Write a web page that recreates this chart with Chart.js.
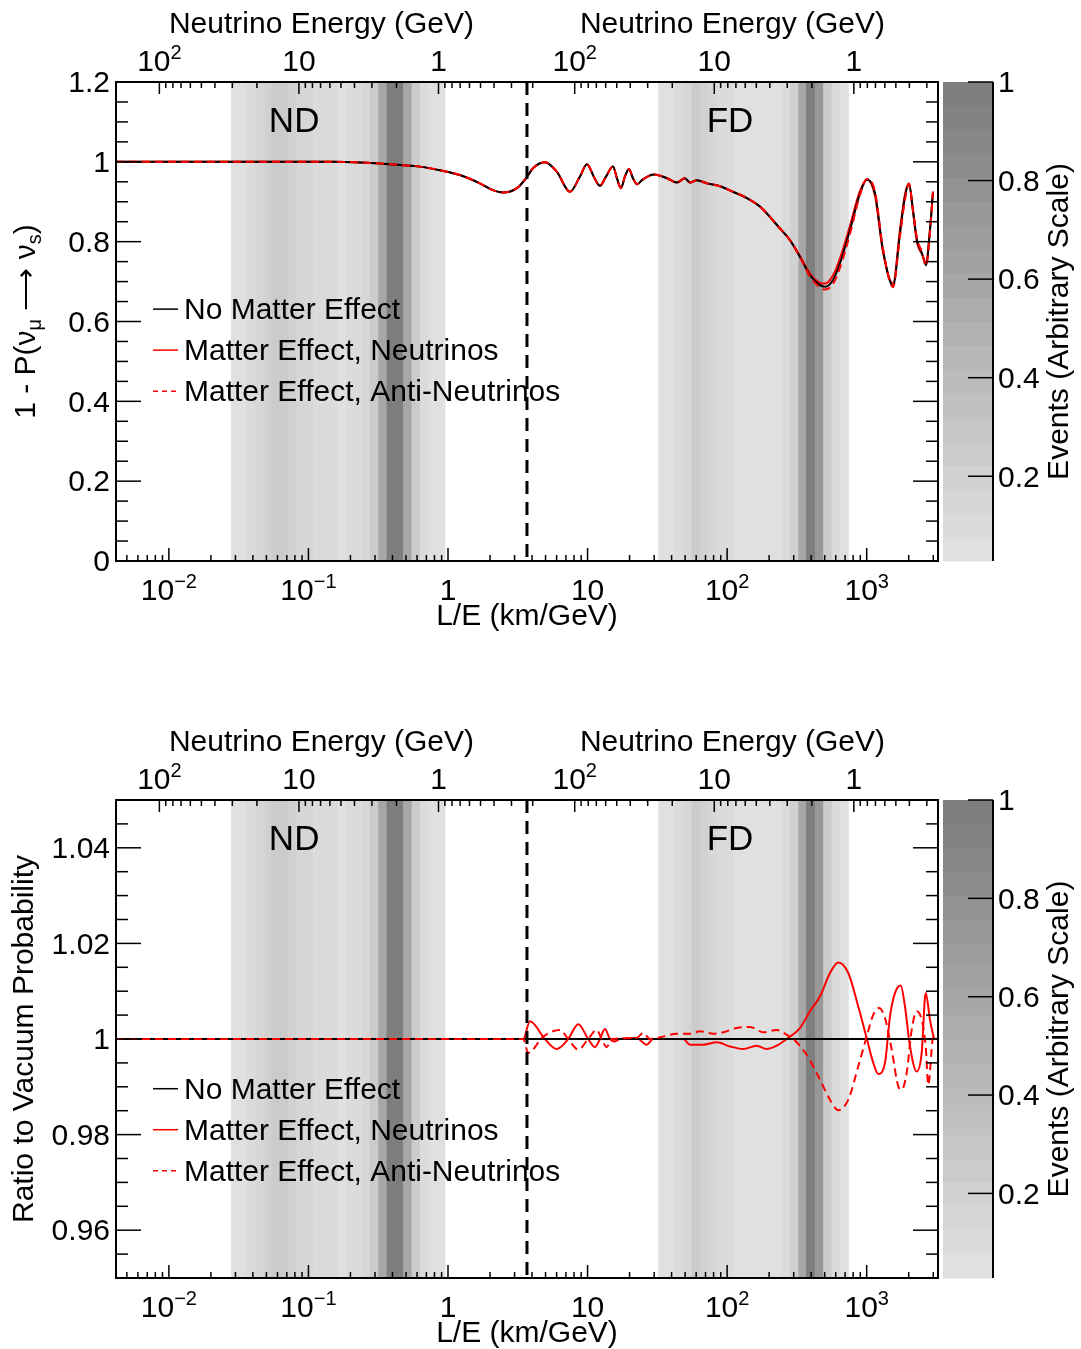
<!DOCTYPE html>
<html>
<head>
<meta charset="utf-8">
<script src="https://cdn.jsdelivr.net/npm/chart.js@4.4.1/dist/chart.umd.min.js"></script>
<style>
  html, body { margin: 0; padding: 0; background: #fff; overflow: hidden; }
  canvas { position: absolute; left: 0; }
  #survival { top: 0; }
  #ratio { top: 718px; }
</style>
</head>
<body>
<canvas id="survival" width="1081" height="674"></canvas>
<canvas id="ratio" width="1081" height="631"></canvas>
<script>
const FONT = '"Liberation Sans", Arial, Helvetica, sans-serif';
const TEXT = 30;

// L/E axis range (km/GeV)
const leMin = 0.00418;
const leMax = 3243;
// ND / FD split and baselines (km) used for the energy axes
const boundaryLE = 3.68;
const baselineND = 0.855;
const baselineFD = 809;
const energyLabelValues = [100, 10, 1];

// Event histograms: bin edges in L/E and normalised contents
const ndEdges = [0.0279, 0.0360, 0.0418, 0.0482, 0.0544, 0.0716, 0.0822, 0.1081, 0.1633, 0.1876, 0.2443, 0.2756, 0.3161, 0.3631, 0.4163, 0.4775, 0.5483, 0.6287, 0.7212, 0.9502];
const ndEvents = [0.06, 0.11, 0.15, 0.20, 0.25, 0.20, 0.15, 0.11, 0.06, 0.11, 0.15, 0.25, 0.61, 0.99, 0.97, 0.61, 0.25, 0.11, 0.06];
const fdEdges = [32.09, 42.27, 48.48, 55.69, 63.86, 73.21, 84.12, 110.6, 245.9, 281.9, 323.4, 367.2, 426.0, 488.6, 561.3, 643.6, 738.0];
const fdEvents = [0.06, 0.11, 0.15, 0.25, 0.20, 0.15, 0.11, 0.06, 0.11, 0.20, 0.61, 0.99, 0.73, 0.25, 0.11, 0.06];

// Survival probability 1 - P(numu -> nus)
const leSurvival = [0.00418, 0.15, 0.325, 0.452, 0.629, 0.875, 1.217, 1.693, 2.098, 2.475, 3.118, 3.677, 4.059, 4.947, 6.031, 7.476, 8.815, 9.895, 11.11, 12.27, 13.54, 15.20, 16.23, 17.34, 18.52, 19.79, 21.14, 22.58, 24.93, 29.90, 37.05, 43.70, 49.86, 54.15, 60.77, 71.69, 88.83, 110.1, 138.8, 171.9, 239.1, 281.9, 332.5, 392.3, 462.7, 502.4, 573.3, 643.6, 759.0, 895.3, 1004.7, 1146.6, 1308.6, 1543.1, 1731.9, 1880.8, 2009.1, 2146.1, 2293.3, 2490.2, 2660.1, 2841.6, 2985.4];
const survVacuum = [1.0, 1.0, 0.996, 0.992, 0.988, 0.979, 0.967, 0.946, 0.929, 0.923, 0.934, 0.962, 0.984, 0.999, 0.975, 0.925, 0.963, 0.994, 0.962, 0.940, 0.963, 0.988, 0.959, 0.934, 0.963, 0.982, 0.959, 0.944, 0.956, 0.968, 0.959, 0.948, 0.959, 0.948, 0.954, 0.946, 0.939, 0.925, 0.909, 0.888, 0.833, 0.804, 0.762, 0.716, 0.691, 0.687, 0.704, 0.746, 0.829, 0.921, 0.956, 0.921, 0.779, 0.689, 0.821, 0.913, 0.946, 0.879, 0.804, 0.771, 0.741, 0.829, 0.925];
const survNu = [1.0, 1.0, 0.996, 0.992, 0.988, 0.979, 0.967, 0.946, 0.929, 0.923, 0.934, 0.962, 0.984, 0.999, 0.975, 0.925, 0.963, 0.994, 0.962, 0.940, 0.963, 0.988, 0.959, 0.934, 0.963, 0.982, 0.959, 0.944, 0.956, 0.968, 0.959, 0.948, 0.959, 0.948, 0.954, 0.946, 0.939, 0.925, 0.909, 0.888, 0.833, 0.804, 0.764, 0.720, 0.697, 0.695, 0.715, 0.758, 0.840, 0.927, 0.956, 0.915, 0.774, 0.695, 0.830, 0.919, 0.945, 0.875, 0.798, 0.769, 0.748, 0.832, 0.925];
const survAnti = [1.0, 1.0, 0.996, 0.992, 0.988, 0.979, 0.967, 0.946, 0.929, 0.923, 0.934, 0.962, 0.984, 0.999, 0.975, 0.925, 0.963, 0.994, 0.962, 0.940, 0.963, 0.988, 0.959, 0.934, 0.963, 0.982, 0.959, 0.944, 0.956, 0.968, 0.959, 0.948, 0.959, 0.948, 0.954, 0.946, 0.939, 0.925, 0.909, 0.888, 0.833, 0.804, 0.761, 0.713, 0.685, 0.680, 0.694, 0.735, 0.819, 0.917, 0.957, 0.926, 0.783, 0.686, 0.813, 0.905, 0.945, 0.881, 0.809, 0.774, 0.740, 0.823, 0.925];

// Ratio to vacuum probability
const leVacuumRatio = [0.00418, 3243];
const vacuumRatio = [1, 1];
const leNuRatio = [0.00418, 3.459, 3.863, 4.947, 6.002, 7.267, 8.574, 10.11, 11.29, 12.27, 13.32, 14.46, 15.71, 17.06, 22.47, 26.51, 29.55, 48.48, 54.15, 67.44, 84.12, 104.8, 130.5, 162.7, 191.9, 226.4, 267.1, 332.5, 392.3, 462.7, 545.7, 625.9, 738.0, 870.5, 999.8, 1115, 1211, 1352, 1468, 1594, 1752, 1881, 2043, 2281, 2478, 2647, 2842, 3035];
const nuRatio = [1, 1, 1.0037, 1.0, 0.9979, 1.0, 1.0031, 1.0, 0.9983, 1.0, 1.0021, 1.0, 0.9995, 1.0, 1.0002, 0.9988, 1.0, 1.0, 0.9988, 0.9988, 0.9993, 0.99845, 0.9979, 0.9986, 0.9979, 0.9986, 1.0, 1.0023, 1.0058, 1.0089, 1.0138, 1.0160, 1.0138, 1.0068, 1.0002, 0.9950, 0.9927, 0.9950, 1.0047, 1.0096, 1.0112, 1.0068, 0.99845, 0.9932, 0.9971, 1.0096, 1.0040, 1.0];
const leAntiRatio = [0.00418, 3.459, 3.756, 4.811, 6.338, 7.267, 8.574, 10.11, 11.61, 12.61, 13.70, 14.87, 22.47, 25.06, 27.99, 34.85, 43.47, 54.15, 63.89, 79.55, 93.80, 117.0, 145.7, 181.5, 226.4, 267.1, 297.8, 371.5, 462.7, 545.7, 625.9, 738.0, 870.5, 999.8, 1115, 1225, 1352, 1510, 1684, 1781, 1934, 2101, 2281, 2478, 2647, 2763, 2971, 3035];
const antiRatio = [1, 1, 0.9971, 1.0005, 1.0019, 1.0, 0.9978, 1.0, 1.0019, 1.0, 0.9983, 1.0, 1.0002, 1.0013, 1.0, 1.0005, 1.0011, 1.0011, 1.0016, 1.0011, 1.0014, 1.0023, 1.0025, 1.0014, 1.0019, 1.0009, 1.0, 0.9967, 0.9915, 0.9873, 0.9851, 0.9873, 0.9943, 1.0005, 1.0051, 1.0065, 1.0044, 0.9978, 0.9901, 0.9894, 0.9929, 1.0019, 1.0058, 1.0040, 0.99845, 0.9904, 1.0, 1.0005];

// Grey palette of the event colour scale
const zMin = 0.028;
const zMax = 1;
const nLevels = 20;
const zLabels = [0.2, 0.4, 0.6, 0.8, 1];
function grayFor(v) {
  let k = Math.floor((v - zMin) / (zMax - zMin) * nLevels);
  k = Math.max(0, Math.min(nLevels - 1, k));
  const g = Math.round(224 - k * (224 - 126) / (nLevels - 1));
  return `rgb(${g},${g},${g})`;
}

function points(xs, ys) {
  return xs.map((x, i) => ({ x: x, y: ys[i] }));
}

function logTicks(lo, hi) {
  const t = [];
  for (let n = -3; n <= 3; n++) {
    for (let m = 1; m <= 9; m++) {
      const v = m * Math.pow(10, n);
      if (v >= lo && v <= hi) t.push({ value: v });
    }
  }
  return t;
}

function isDecade(v) {
  const l = Math.log10(v);
  return Math.abs(l - Math.round(l)) < 1e-9;
}

function isMultiple(v, step) {
  return Math.abs(v / step - Math.round(v / step)) < 1e-6;
}

// "10^n" label split into base and raised exponent
function powerParts(v) {
  const n = Math.round(Math.log10(v));
  if (n === 0) return [['1', TEXT, 0]];
  if (n === 1) return [['10', TEXT, 0]];
  return [['10', TEXT, 0], [String(n).replace('-', '\u2212'), 20, -10]];
}

// draws a row of text pieces (text, size, dy) centred on cx
function drawRich(ctx, parts, cx, cy) {
  let w = 0;
  const widths = parts.map(p => {
    ctx.font = `${p[1]}px ${FONT}`;
    const pw = ctx.measureText(p[0]).width;
    w += pw;
    return pw;
  });
  let xx = cx - w / 2;
  ctx.textAlign = 'left';
  ctx.textBaseline = 'middle';
  parts.forEach((p, i) => {
    ctx.font = `${p[1]}px ${FONT}`;
    ctx.fillText(p[0], xx, cy + p[2]);
    xx += widths[i];
  });
}

function seg(ctx, x0, y0, x1, y1) {
  ctx.beginPath();
  ctx.moveTo(x0, y0);
  ctx.lineTo(x1, y1);
  ctx.stroke();
}

const rootFrame = {
  id: 'rootFrame',
  beforeDatasetsDraw(chart) {
    const { ctx, chartArea: a, scales: { x } } = chart;
    ctx.save();
    [[ndEdges, ndEvents], [fdEdges, fdEvents]].forEach(([edges, vals]) => {
      vals.forEach((v, i) => {
        const x0 = x.getPixelForValue(edges[i]);
        const x1 = x.getPixelForValue(edges[i + 1]);
        ctx.fillStyle = grayFor(v);
        ctx.fillRect(x0, a.top, x1 - x0 + 0.5, a.bottom - a.top);
      });
    });
    ctx.restore();
  },
  afterDraw(chart, args, opts) {
    const { ctx, chartArea: a, scales: { x, y, z } } = chart;
    ctx.save();
    ctx.strokeStyle = '#000';
    ctx.fillStyle = '#000';

    // ND | FD boundary
    const xb = x.getPixelForValue(boundaryLE);
    ctx.lineWidth = 3;
    ctx.setLineDash([13, 8]);
    seg(ctx, xb, a.top, xb, a.bottom);
    ctx.setLineDash([]);

    // L/E ticks and labels
    ctx.lineWidth = 1.5;
    x.ticks.forEach(t => {
      const px = x.getPixelForValue(t.value);
      if (px < a.left + 1 || px > a.right - 1) return;
      const dec = isDecade(t.value);
      seg(ctx, px, a.bottom, px, a.bottom - (dec ? 13 : 6));
      if (dec) drawRich(ctx, powerParts(t.value), px, a.bottom + 31);
    });
    ctx.font = `${TEXT}px ${FONT}`;
    ctx.textAlign = 'center';
    ctx.textBaseline = 'middle';
    ctx.fillText('L/E (km/GeV)', (a.left + a.right) / 2, a.bottom + 56);

    // energy axes along the top, one per detector
    [[baselineND, a.left, xb], [baselineFD, xb, a.right]].forEach(([L, lo, hi]) => {
      for (let n = -1; n <= 3; n++) {
        for (let m = 1; m <= 9; m++) {
          const px = x.getPixelForValue(L / (m * Math.pow(10, n)));
          if (px <= lo + 2 || px >= hi - 2) continue;
          seg(ctx, px, a.top, px, a.top + (m === 1 ? 12 : 6));
        }
      }
      energyLabelValues.forEach(e => {
        drawRich(ctx, powerParts(e), x.getPixelForValue(L / e), a.top - 19);
      });
      ctx.font = `${TEXT}px ${FONT}`;
      ctx.textAlign = 'center';
      ctx.fillText('Neutrino Energy (GeV)', (lo + hi) / 2, a.top - 57);
    });

    // y ticks on both sides
    y.ticks.forEach(t => {
      const py = y.getPixelForValue(t.value);
      const len = t.label !== '' ? 25 : 12;
      seg(ctx, a.left, py, a.left + len, py);
      seg(ctx, a.right, py, a.right - len, py);
    });

    // frame
    ctx.lineWidth = 2;
    ctx.strokeRect(a.left, a.top, a.right - a.left, a.bottom - a.top);

    // detector labels
    ctx.font = `35px ${FONT}`;
    ctx.textAlign = 'center';
    ctx.textBaseline = 'middle';
    ctx.fillText('ND', x.getPixelForValue(0.079), a.top + 40);
    ctx.fillText('FD', x.getPixelForValue(104.8), a.top + 40);

    // legend
    const ly = y.getPixelForValue(opts.legendY);
    chart.data.datasets.forEach((ds, i) => {
      const py = ly + i * 41;
      ctx.strokeStyle = ds.borderColor;
      ctx.lineWidth = 1.5;
      ctx.setLineDash(ds.borderDash ? [5, 4] : []);
      seg(ctx, a.left + 37, py, a.left + 62, py);
      ctx.setLineDash([]);
      ctx.fillStyle = '#000';
      ctx.font = `${TEXT}px ${FONT}`;
      ctx.textAlign = 'left';
      ctx.fillText(ds.label, a.left + 68, py + 2);
    });

    // y title
    ctx.save();
    ctx.translate(opts.titleX, (a.top + a.bottom) / 2);
    ctx.rotate(-Math.PI / 2);
    drawRich(ctx, opts.yTitle, 0, 0);
    ctx.restore();

    // colour scale
    const cx0 = a.right + 5;
    const cx1 = a.right + 55;
    for (let k = 0; k < nLevels; k++) {
      const v0 = zMin + k * (zMax - zMin) / nLevels;
      const v1 = zMin + (k + 1) * (zMax - zMin) / nLevels;
      const y0 = z.getPixelForValue(v1);
      const y1 = z.getPixelForValue(v0);
      ctx.fillStyle = grayFor((v0 + v1) / 2);
      ctx.fillRect(cx0, y0, cx1 - cx0, y1 - y0 + 0.5);
    }
    ctx.strokeStyle = '#000';
    ctx.fillStyle = '#000';
    ctx.lineWidth = 2;
    seg(ctx, cx1, a.top, cx1, a.bottom);
    ctx.lineWidth = 1.5;
    ctx.font = `${TEXT}px ${FONT}`;
    ctx.textAlign = 'left';
    ctx.textBaseline = 'middle';
    z.ticks.forEach(t => {
      const py = z.getPixelForValue(t.value);
      seg(ctx, cx1, py, cx1 - 25, py);
      ctx.fillText(String(parseFloat(t.value.toFixed(1))), cx1 + 5, py + 2);
    });
    ctx.save();
    ctx.translate(1060, (a.top + a.bottom) / 2);
    ctx.rotate(-Math.PI / 2);
    drawRich(ctx, [['Events (Arbitrary Scale)', TEXT, 0]], 0, 0);
    ctx.restore();

    ctx.restore();
  }
};

function makeDatasets(vac, nu, anti) {
  return [
    { label: 'No Matter Effect', data: vac, borderColor: '#000000', order: 1 },
    { label: 'Matter Effect, Neutrinos', data: nu, borderColor: '#ff0000', order: 2 },
    { label: 'Matter Effect, Anti-Neutrinos', data: anti, borderColor: '#ff0000', borderDash: [8, 5], order: 0 }
  ];
}

function makeChart(id, cfg) {
  const canvas = document.getElementById(id);
  const H = canvas.height;
  const steps = Math.round((cfg.yMax - cfg.yMin) / cfg.yMinor);
  return new Chart(canvas, {
    type: 'line',
    data: { datasets: cfg.datasets },
    plugins: [rootFrame],
    options: {
      responsive: false,
      animation: false,
      devicePixelRatio: 1,
      layout: { padding: { top: 82, left: 0, right: 0, bottom: 0 } },
      elements: {
        point: { radius: 0 },
        line: { borderWidth: 2, cubicInterpolationMode: 'monotone' }
      },
      plugins: {
        legend: { display: false },
        tooltip: { enabled: false },
        rootFrame: { yTitle: cfg.yTitle, titleX: cfg.titleX, legendY: cfg.legendY }
      },
      scales: {
        x: {
          type: 'logarithmic',
          min: leMin,
          max: leMax,
          grid: { display: false, drawTicks: false },
          border: { display: false },
          ticks: { display: false },
          afterBuildTicks: s => { s.ticks = logTicks(leMin, leMax); },
          afterFit: s => { s.height = H - 82 - cfg.plotHeight; }
        },
        y: {
          type: 'linear',
          position: 'left',
          min: cfg.yMin,
          max: cfg.yMax,
          grid: { display: false, drawTicks: false },
          border: { display: false },
          ticks: {
            autoSkip: false,
            padding: 6,
            labelOffset: 2,
            color: '#000',
            font: { family: FONT, size: TEXT },
            callback: v => isMultiple(v, cfg.yMajor) ? String(parseFloat(v.toFixed(3))) : ''
          },
          afterBuildTicks: s => {
            const t = [];
            for (let i = 0; i <= steps; i++) t.push({ value: +(cfg.yMin + i * cfg.yMinor).toFixed(4) });
            s.ticks = t;
          },
          afterFit: s => { s.width = 116; }
        },
        z: {
          axis: 'y',
          type: 'linear',
          position: 'right',
          min: zMin,
          max: zMax,
          grid: { display: false, drawTicks: false },
          border: { display: false },
          ticks: { display: false },
          afterBuildTicks: s => { s.ticks = zLabels.map(v => ({ value: v })); },
          afterFit: s => { s.width = 143; }
        }
      }
    }
  });
}

makeChart('survival', {
  datasets: makeDatasets(points(leSurvival, survVacuum), points(leSurvival, survNu), points(leSurvival, survAnti)),
  yMin: 0, yMax: 1.2, yMinor: 0.05, yMajor: 0.2,
  plotHeight: 479,
  legendY: 0.631,
  titleX: 27,
  yTitle: [['1 - P(\u03bd', TEXT, 0], ['\u03bc', 20, 8], [' \u27f6 \u03bd', TEXT, 0], ['s', 20, 8], [')', TEXT, 0]]
});

makeChart('ratio', {
  datasets: makeDatasets(points(leVacuumRatio, vacuumRatio), points(leNuRatio, nuRatio), points(leAntiRatio, antiRatio)),
  yMin: 0.95, yMax: 1.05, yMinor: 0.005, yMajor: 0.02,
  plotHeight: 478,
  legendY: 0.9896,
  titleX: 25,
  yTitle: [['Ratio to Vacuum Probability', TEXT, 0]]
});
</script>
</body>
</html>
